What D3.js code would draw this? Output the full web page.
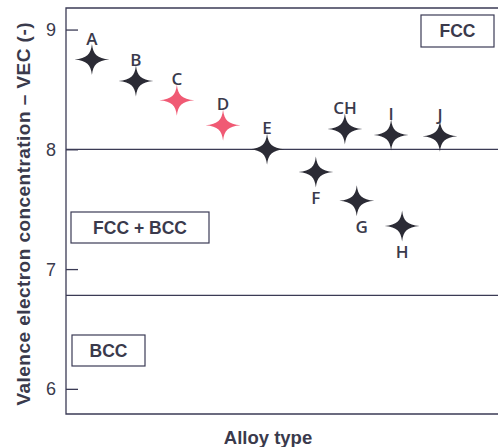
<!DOCTYPE html>
<html>
<head>
<meta charset="utf-8">
<script src="https://cdn.jsdelivr.net/npm/d3@7"></script>
<style>
  html, body { margin: 0; padding: 0; background: #fff; }
  svg { display: block; }
  text { font-family: "Liberation Sans", Arial, sans-serif; fill: #3a3a4c; }
</style>
</head>
<body>
<svg id="chart" width="498" height="447"></svg>
<script>
// Alloys: label, position along the alloy axis, valence electron concentration
const alloys = ["A", "B", "C", "D", "E", "F", "CH", "G", "I", "H", "J"];
const alloyPos = [1, 2, 2.93, 3.98, 4.98, 6.09, 6.75, 7.02, 7.8, 8.05, 8.91];
const vec = [8.75, 8.57, 8.41, 8.2, 8.0, 7.81, 8.17, 7.57, 8.12, 7.36, 8.11];
const highlighted = ["C", "D"];
const labelBelow = ["F", "G", "H"];

const yTicks = [6, 7, 8, 9];
const phaseLimits = [8.0, 6.78];
const phaseRegions = ["FCC", "FCC + BCC", "BCC"];

const svg = d3.select("#chart");
const margin = { left: 66, top: 8, right: 520, bottom: 414 };

const x = d3.scaleLinear().domain([0.41, 10.23]).range([margin.left, 498]);
const y = d3.scaleLinear().domain([5.79, 9.18]).range([margin.bottom, margin.top]);

const ink = "#3b3b55";

// Frame (left, top, bottom; the right side runs past the view)
svg.append("path")
  .attr("d", `M${margin.right},${margin.top}H${margin.left}V${margin.bottom}H${margin.right}`)
  .attr("fill", "none").attr("stroke", ink).attr("stroke-width", 1.3);

// Y axis with inward ticks
const yAxis = d3.axisRight(y).tickValues(yTicks).tickSize(12).tickFormat("");
const gy = svg.append("g").attr("transform", `translate(${margin.left},0)`).call(yAxis);
gy.select(".domain").remove();
gy.selectAll(".tick line").attr("stroke", ink).attr("stroke-width", 1.3);

svg.append("g").selectAll("text").data(yTicks).join("text")
  .attr("x", 51).attr("y", d => y(d)).attr("dy", "0.36em")
  .attr("text-anchor", "middle").attr("font-size", 18).text(d => d);

// Phase boundaries
svg.append("g").selectAll("line").data(phaseLimits).join("line")
  .attr("x1", margin.left).attr("x2", margin.right)
  .attr("y1", d => y(d)).attr("y2", d => y(d))
  .attr("stroke", ink).attr("stroke-width", 1.3);

// Phase region labels in boxes
const boxes = [
  { text: phaseRegions[0], x0: 421, y0: 15, w: 73, h: 32 },
  { text: phaseRegions[1], x0: 71, y0: 212, w: 138, h: 31 },
  { text: phaseRegions[2], x0: 72, y0: 335, w: 73, h: 31 }
];
const gb = svg.append("g").selectAll("g").data(boxes).join("g");
gb.append("rect")
  .attr("x", d => d.x0).attr("y", d => d.y0).attr("width", d => d.w).attr("height", d => d.h)
  .attr("fill", "#fff").attr("stroke", ink).attr("stroke-width", 1.2);
gb.append("text")
  .attr("x", d => d.x0 + d.w / 2).attr("y", d => d.y0 + d.h / 2).attr("dy", "0.36em")
  .attr("text-anchor", "middle").attr("font-size", 17.5).attr("font-weight", "bold")
  .text(d => d.text);

// Four-pointed star marker: thin tapering arms around a small solid core
const star = (() => {
  const rx = 17.5, ry = 15.5, a = 5, b = 1.3;
  return `M${-rx},0 C${-a},${-b} ${-b},${-a} 0,${-ry}`
       + ` C${b},${-a} ${a},${-b} ${rx},0`
       + ` C${a},${b} ${b},${a} 0,${ry}`
       + ` C${-b},${a} ${-a},${b} ${-rx},0Z`;
})();

const data = alloys.map((a, i) => ({ name: a, pos: alloyPos[i], v: vec[i] }));

const gp = svg.append("g").selectAll("g").data(data).join("g")
  .attr("transform", d => `translate(${x(d.pos)},${y(d.v)})`);
gp.append("path").attr("d", star)
  .attr("fill", d => highlighted.includes(d.name) ? "#f05a74" : "#2b2b35");
gp.append("text")
  .attr("x", d => d.name === "G" ? 5 : 0)
  .attr("y", d => labelBelow.includes(d.name) ? 26 : -21)
  .attr("dy", "0.36em")
  .attr("text-anchor", "middle").attr("font-size", 17).attr("font-weight", "600")
  .style("font-family", "'Open Sans', 'Liberation Sans', Arial, sans-serif")
  .text(d => d.name);

// Axis titles
svg.append("text")
  .attr("transform", "translate(23,214) rotate(-90)")
  .attr("text-anchor", "middle").attr("dy", "0.36em")
  .attr("font-size", 19).attr("font-weight", "bold")
  .attr("textLength", 383).attr("lengthAdjust", "spacing")
  .text("Valence electron concentration \u2013 VEC (-)");

svg.append("text")
  .attr("x", 268).attr("y", 437).attr("dy", "0.36em")
  .attr("text-anchor", "middle").attr("font-size", 18.5).attr("font-weight", "bold")
  .text("Alloy type");
</script>
</body>
</html>
